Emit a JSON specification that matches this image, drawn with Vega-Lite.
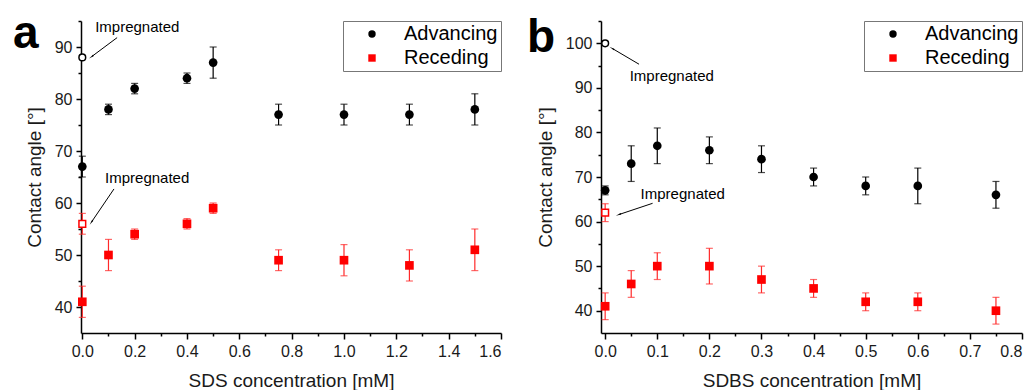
{
  "$schema": "https://vega.github.io/schema/vega-lite/v6.json",
  "padding": {"left": 12, "top": 11, "right": 10, "bottom": 0},
  "background": "white",
  "datasets": {
    "a": [
      {"series": "Advancing", "conc": 0, "angle": 67, "lo": 65, "hi": 69, "imp": false},
      {"series": "Advancing", "conc": 0, "angle": 88, "lo": null, "hi": null, "imp": true},
      {"series": "Advancing", "conc": 0.1, "angle": 78, "lo": 77, "hi": 79, "imp": false},
      {"series": "Advancing", "conc": 0.2, "angle": 82, "lo": 81, "hi": 83, "imp": false},
      {"series": "Advancing", "conc": 0.4, "angle": 84, "lo": 83, "hi": 85, "imp": false},
      {"series": "Advancing", "conc": 0.5, "angle": 87, "lo": 84, "hi": 90, "imp": false},
      {"series": "Advancing", "conc": 0.75, "angle": 77, "lo": 75, "hi": 79, "imp": false},
      {"series": "Advancing", "conc": 1.0, "angle": 77, "lo": 75, "hi": 79, "imp": false},
      {"series": "Advancing", "conc": 1.25, "angle": 77, "lo": 75, "hi": 79, "imp": false},
      {"series": "Advancing", "conc": 1.5, "angle": 78, "lo": 75, "hi": 81, "imp": false},
      {"series": "Receding", "conc": 0, "angle": 41, "lo": 38, "hi": 44, "imp": false},
      {"series": "Receding", "conc": 0, "angle": 56, "lo": 54, "hi": 58, "imp": true},
      {"series": "Receding", "conc": 0.1, "angle": 50, "lo": 47, "hi": 53, "imp": false},
      {"series": "Receding", "conc": 0.2, "angle": 54, "lo": 53, "hi": 55, "imp": false},
      {"series": "Receding", "conc": 0.4, "angle": 56, "lo": 55, "hi": 57, "imp": false},
      {"series": "Receding", "conc": 0.5, "angle": 59, "lo": 58, "hi": 60, "imp": false},
      {"series": "Receding", "conc": 0.75, "angle": 49, "lo": 47, "hi": 51, "imp": false},
      {"series": "Receding", "conc": 1.0, "angle": 49, "lo": 46, "hi": 52, "imp": false},
      {"series": "Receding", "conc": 1.25, "angle": 48, "lo": 45, "hi": 51, "imp": false},
      {"series": "Receding", "conc": 1.5, "angle": 51, "lo": 47, "hi": 55, "imp": false}
    ],
    "b": [
      {"series": "Advancing", "conc": 0, "angle": 67, "lo": 66, "hi": 68, "imp": false},
      {"series": "Advancing", "conc": 0, "angle": 100, "lo": null, "hi": null, "imp": true},
      {"series": "Advancing", "conc": 0.05, "angle": 73, "lo": 69, "hi": 77, "imp": false},
      {"series": "Advancing", "conc": 0.1, "angle": 77, "lo": 73, "hi": 81, "imp": false},
      {"series": "Advancing", "conc": 0.2, "angle": 76, "lo": 73, "hi": 79, "imp": false},
      {"series": "Advancing", "conc": 0.3, "angle": 74, "lo": 71, "hi": 77, "imp": false},
      {"series": "Advancing", "conc": 0.4, "angle": 70, "lo": 68, "hi": 72, "imp": false},
      {"series": "Advancing", "conc": 0.5, "angle": 68, "lo": 66, "hi": 70, "imp": false},
      {"series": "Advancing", "conc": 0.6, "angle": 68, "lo": 64, "hi": 72, "imp": false},
      {"series": "Advancing", "conc": 0.75, "angle": 66, "lo": 63, "hi": 69, "imp": false},
      {"series": "Receding", "conc": 0, "angle": 41, "lo": 38, "hi": 44, "imp": false},
      {"series": "Receding", "conc": 0, "angle": 62, "lo": 60, "hi": 64, "imp": true},
      {"series": "Receding", "conc": 0.05, "angle": 46, "lo": 43, "hi": 49, "imp": false},
      {"series": "Receding", "conc": 0.1, "angle": 50, "lo": 47, "hi": 53, "imp": false},
      {"series": "Receding", "conc": 0.2, "angle": 50, "lo": 46, "hi": 54, "imp": false},
      {"series": "Receding", "conc": 0.3, "angle": 47, "lo": 44, "hi": 50, "imp": false},
      {"series": "Receding", "conc": 0.4, "angle": 45, "lo": 43, "hi": 47, "imp": false},
      {"series": "Receding", "conc": 0.5, "angle": 42, "lo": 40, "hi": 44, "imp": false},
      {"series": "Receding", "conc": 0.6, "angle": 42, "lo": 40, "hi": 44, "imp": false},
      {"series": "Receding", "conc": 0.75, "angle": 40, "lo": 37, "hi": 43, "imp": false}
    ],
    "a_notes": [
      {"label": "Impregnated", "conc": 0.049, "angle": 93.9},
      {"label": "Impregnated", "conc": 0.087, "angle": 64.8}
    ],
    "a_panel": [{"label": "a", "conc": -0.265, "angle": 89.8}],
    "a_arrows": [
      {"id": 1, "conc": 0.133, "angle": 91.8, "conc2": 0.037, "angle2": 88.2},
      {"id": 2, "conc": 0.121, "angle": 62.7, "conc2": 0.036, "angle2": 56.4}
    ],
    "b_notes": [
      {"label": "Impregnated", "conc": 0.047, "angle": 92.7},
      {"label": "Impregnated", "conc": 0.068, "angle": 66.2}
    ],
    "b_panel": [{"label": "b", "conc": -0.15, "angle": 98.05}],
    "b_arrows": [
      {"id": 1, "conc": 0.065, "angle": 95.3, "conc2": 0.0142, "angle2": 98.8},
      {"id": 2, "conc": 0.091, "angle": 64.1, "conc2": 0.027, "angle2": 61.6}
    ]
  },
  "hconcat": [
    {
      "width": 420,
      "height": 312,
      "encoding": {
        "x": {"field": "conc", "type": "quantitative",
          "scale": {"domain": [-0.005, 1.6], "nice": false, "zero": false},
          "axis": {"title": "SDS concentration [mM]", "values": [0,0.1,0.2,0.3,0.4,0.5,0.6,0.7,0.8,0.9,1.0,1.1,1.2,1.3,1.4,1.5,1.6],
            "labelExpr": "round(datum.value*10) % 2 == 1 ? '' : format(datum.value, '.1f')",
            "tickSize": {"condition": {"test": "round(datum.value*10) % 2 == 1", "value": 3}, "value": 6},
            "labelOverlap": false, "labelPadding": 4, "titlePadding": 12}},
        "y": {"field": "angle", "type": "quantitative",
          "scale": {"domain": [35, 95], "nice": false, "zero": false},
          "axis": {"title": "Contact angle [°]", "values": [40,45,50,55,60,65,70,75,80,85,90,95],
            "labelExpr": "datum.value % 10 != 0 ? '' : format(datum.value, 'd')",
            "tickSize": {"condition": {"test": "datum.value % 10 != 0", "value": 3}, "value": 5},
            "labelOverlap": false, "labelPadding": 4, "titlePadding": 10}}
      },
      "layer": [
        {
          "data": {"name": "a"},
          "transform": [{"filter": "datum.lo != null && datum.series == 'Advancing'"}],
          "mark": {"type": "errorbar", "ticks": {"size": 7}, "thickness": 1.2, "color": "black"},
          "encoding": {"y": {"field": "lo", "type": "quantitative"}, "y2": {"field": "hi"}}
        },
        {
          "data": {"name": "a"},
          "transform": [{"filter": "datum.lo != null && datum.series == 'Receding'"}],
          "mark": {"type": "errorbar", "ticks": {"size": 7}, "thickness": 1.2, "color": "#ff2a2a"},
          "encoding": {"y": {"field": "lo", "type": "quantitative"}, "y2": {"field": "hi"}}
        },
        {
          "data": {"name": "a"},
          "transform": [{"filter": "!datum.imp"}],
          "mark": {"type": "point", "filled": true, "opacity": 1, "size": 75},
          "encoding": {
            "color": {"field": "series", "type": "nominal", "scale": {"domain": ["Advancing", "Receding"], "range": ["black", "#ff0000"]}, "legend": {"title": null}},
            "shape": {"field": "series", "type": "nominal", "scale": {"domain": ["Advancing", "Receding"], "range": ["circle", "square"]}, "legend": {"title": null}}
          }
        },
        {
          "data": {"name": "a"},
          "transform": [{"filter": "datum.imp && datum.series == 'Advancing'"}],
          "mark": {"type": "point", "shape": "circle", "filled": false, "color": "black", "opacity": 1, "size": 45, "strokeWidth": 1.5, "fill": "white"}
        },
        {
          "data": {"name": "a"},
          "transform": [{"filter": "datum.imp && datum.series == 'Receding'"}],
          "mark": {"type": "point", "shape": "square", "filled": false, "color": "#ff0000", "opacity": 1, "size": 45, "strokeWidth": 1.5, "fill": "white"}
        },
        {
          "data": {"name": "a_notes"},
          "mark": {"type": "text", "align": "left", "baseline": "middle", "fontSize": 15, "font": "Liberation Sans", "color": "black"},
          "encoding": {"text": {"field": "label"}}
        },
        {
          "data": {"name": "a_panel"},
          "mark": {"type": "text", "align": "left", "baseline": "alphabetic", "fontSize": 46, "fontWeight": "bold", "font": "Liberation Sans", "color": "black"},
          "encoding": {"text": {"field": "label"}}
        },
        {
          "data": {"name": "a_arrows"},
          "mark": {"type": "rule", "color": "black", "strokeWidth": 1},
          "encoding": {"x2": {"field": "conc2"}, "y2": {"field": "angle2"}}
        },
        {
          "data": {"name": "a_arrows"},
          "transform": [{"filter": "datum.id == 1"}],
          "mark": {"type": "point", "shape": "wedge", "filled": true, "color": "black", "opacity": 1, "size": 40, "angle": 233},
          "encoding": {"x": {"field": "conc2", "type": "quantitative"}, "y": {"field": "angle2", "type": "quantitative"}}
        },
        {
          "data": {"name": "a_arrows"},
          "transform": [{"filter": "datum.id == 2"}],
          "mark": {"type": "point", "shape": "wedge", "filled": true, "color": "black", "opacity": 1, "size": 40, "angle": 214},
          "encoding": {"x": {"field": "conc2", "type": "quantitative"}, "y": {"field": "angle2", "type": "quantitative"}}
        }
      ]
    },
    {
      "width": 421,
      "height": 312,
      "encoding": {
        "x": {"field": "conc", "type": "quantitative",
          "scale": {"domain": [-0.008, 0.8], "nice": false, "zero": false},
          "axis": {"title": "SDBS concentration [mM]", "values": [0,0.05,0.1,0.15,0.2,0.25,0.3,0.35,0.4,0.45,0.5,0.55,0.6,0.65,0.7,0.75,0.8],
            "labelExpr": "round(datum.value*100) % 10 != 0 ? '' : format(datum.value, '.1f')",
            "tickSize": {"condition": {"test": "round(datum.value*100) % 10 != 0", "value": 3}, "value": 6},
            "labelOverlap": false, "labelPadding": 4, "titlePadding": 12}},
        "y": {"field": "angle", "type": "quantitative",
          "scale": {"domain": [35, 105], "nice": false, "zero": false},
          "axis": {"title": "Contact angle [°]", "values": [40,45,50,55,60,65,70,75,80,85,90,95,100,105],
            "labelExpr": "datum.value % 10 != 0 ? '' : format(datum.value, 'd')",
            "tickSize": {"condition": {"test": "datum.value % 10 != 0", "value": 3}, "value": 5},
            "labelOverlap": false, "labelPadding": 4, "titlePadding": 10}}
      },
      "layer": [
        {
          "data": {"name": "b"},
          "transform": [{"filter": "datum.lo != null && datum.series == 'Advancing'"}],
          "mark": {"type": "errorbar", "ticks": {"size": 7}, "thickness": 1.2, "color": "black"},
          "encoding": {"y": {"field": "lo", "type": "quantitative"}, "y2": {"field": "hi"}}
        },
        {
          "data": {"name": "b"},
          "transform": [{"filter": "datum.lo != null && datum.series == 'Receding'"}],
          "mark": {"type": "errorbar", "ticks": {"size": 7}, "thickness": 1.2, "color": "#ff2a2a"},
          "encoding": {"y": {"field": "lo", "type": "quantitative"}, "y2": {"field": "hi"}}
        },
        {
          "data": {"name": "b"},
          "transform": [{"filter": "!datum.imp"}],
          "mark": {"type": "point", "filled": true, "opacity": 1, "size": 75},
          "encoding": {
            "color": {"field": "series", "type": "nominal", "scale": {"domain": ["Advancing", "Receding"], "range": ["black", "#ff0000"]}, "legend": {"title": null}},
            "shape": {"field": "series", "type": "nominal", "scale": {"domain": ["Advancing", "Receding"], "range": ["circle", "square"]}, "legend": {"title": null}}
          }
        },
        {
          "data": {"name": "b"},
          "transform": [{"filter": "datum.imp && datum.series == 'Advancing'"}],
          "mark": {"type": "point", "shape": "circle", "filled": false, "color": "black", "opacity": 1, "size": 45, "strokeWidth": 1.5, "fill": "white"}
        },
        {
          "data": {"name": "b"},
          "transform": [{"filter": "datum.imp && datum.series == 'Receding'"}],
          "mark": {"type": "point", "shape": "square", "filled": false, "color": "#ff0000", "opacity": 1, "size": 45, "strokeWidth": 1.5, "fill": "white"}
        },
        {
          "data": {"name": "b_notes"},
          "mark": {"type": "text", "align": "left", "baseline": "middle", "fontSize": 15, "font": "Liberation Sans", "color": "black"},
          "encoding": {"text": {"field": "label"}}
        },
        {
          "data": {"name": "b_panel"},
          "mark": {"type": "text", "align": "left", "baseline": "alphabetic", "fontSize": 46, "fontWeight": "bold", "font": "Liberation Sans", "color": "black"},
          "encoding": {"text": {"field": "label"}}
        },
        {
          "data": {"name": "b_arrows"},
          "mark": {"type": "rule", "color": "black", "strokeWidth": 1},
          "encoding": {"x2": {"field": "conc2"}, "y2": {"field": "angle2"}}
        },
        {
          "data": {"name": "b_arrows"},
          "transform": [{"filter": "datum.id == 1"}],
          "mark": {"type": "point", "shape": "wedge", "filled": true, "color": "black", "opacity": 1, "size": 40, "angle": 301},
          "encoding": {"x": {"field": "conc2", "type": "quantitative"}, "y": {"field": "angle2", "type": "quantitative"}}
        },
        {
          "data": {"name": "b_arrows"},
          "transform": [{"filter": "datum.id == 2"}],
          "mark": {"type": "point", "shape": "wedge", "filled": true, "color": "black", "opacity": 1, "size": 40, "angle": 251},
          "encoding": {"x": {"field": "conc2", "type": "quantitative"}, "y": {"field": "angle2", "type": "quantitative"}}
        }
      ]
    }
  ],
  "spacing": 25,
  "resolve": {"scale": {"color": "independent", "shape": "independent"}},
  "config": {
    "font": "Liberation Sans",
    "view": {"stroke": null},
    "axis": {"grid": false, "domainColor": "black", "domainWidth": 1.5, "tickColor": "black", "tickWidth": 1.5,
      "labelColor": "#1a1a1a", "labelFontSize": 16, "labelFont": "Liberation Sans",
      "titleFontSize": 19, "titleFontWeight": "normal", "titleColor": "#1a1a1a", "titleFont": "Liberation Sans"},
    "legend": {"orient": "top-right", "offset": 0, "strokeColor": "#777", "strokeWidth": 1, "fillColor": "white", "padding": 3,
      "labelFontSize": 20, "labelFont": "Liberation Sans", "labelColor": "black", "symbolSize": 55, "labelOffset": 22,
      "symbolOffset": 16, "rowPadding": 4}
  }
}
